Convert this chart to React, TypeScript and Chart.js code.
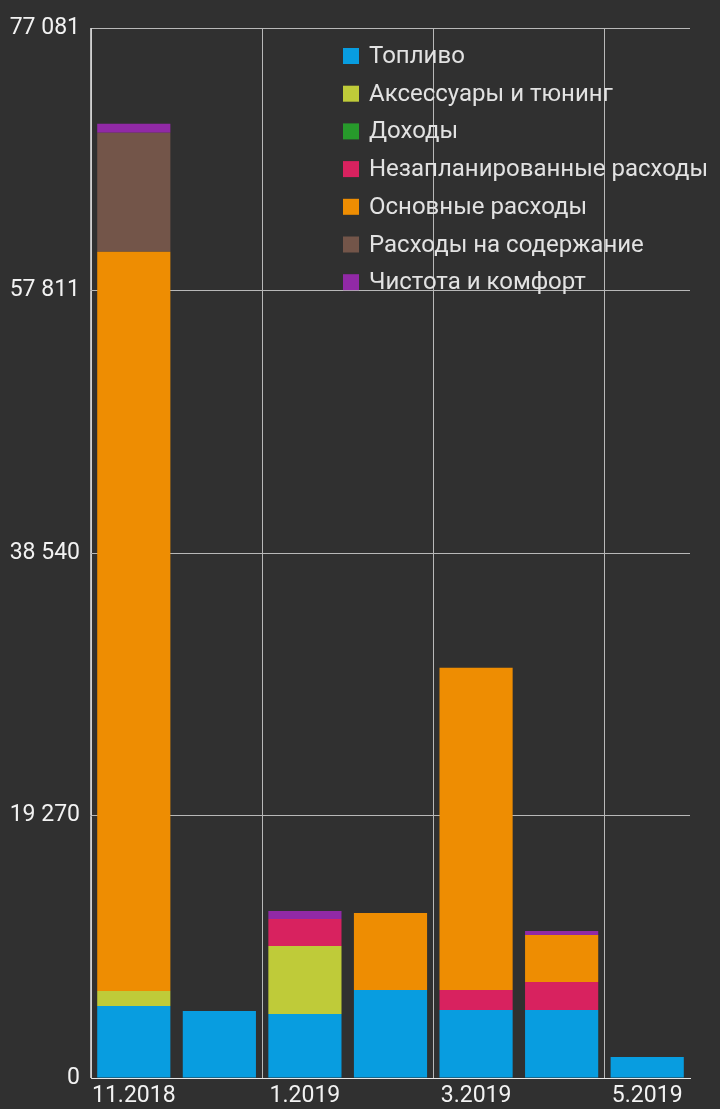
import React, { useEffect, useRef } from "react";
import { Chart, registerables } from "chart.js";

Chart.register(...registerables);

const categories = ["11.2018", "12.2018", "1.2019", "2.2019", "3.2019", "4.2019", "5.2019"];
const yTickValues = [0, 19270.25, 38540.5, 57810.75, 77081];
const yTickLabels = ["0", "19 270", "38 540", "57 811", "77 081"];

const fuel = [5286, 4918, 4698, 6460, 4992, 4992, 1542];
const accessories = [1101, 0, 4992, 0, 0, 0, 0];
const income = [0, 0, 0, 0, 0, 0, 0];
const unplanned = [0, 0, 1982, 0, 1468, 2055, 0];
const basic = [54273, 0, 0, 5653, 23660, 3451, 0];
const maintenance = [8736, 0, 0, 0, 0, 0, 0];
const cleanliness = [660, 0, 587, 0, 0, 293, 0];

const seriesNames = [
  "Топливо",
  "Аксессуары и тюнинг",
  "Доходы",
  "Незапланированные расходы",
  "Основные расходы",
  "Расходы на содержание",
  "Чистота и комфорт",
];
const seriesColors = ["#089DE0", "#BFCB39", "#279A2B", "#D8225F", "#EE8D02", "#735549", "#9129A6"];
const seriesValues = [fuel, accessories, income, unplanned, basic, maintenance, cleanliness];

const FONT = "Roboto, 'Noto Sans', sans-serif";

const insideLegend = {
  id: "insideLegend",
  afterDraw(chart: any) {
    const { ctx, chartArea } = chart;
    const x0 = chartArea.left + 252;
    const y0 = chartArea.top + 28;
    const step = 37.7;
    ctx.save();
    ctx.font = `24px ${FONT}`;
    ctx.textBaseline = "middle";
    ctx.textAlign = "left";
    chart.data.datasets.forEach((ds: any, i: number) => {
      const cy = y0 + i * step;
      ctx.fillStyle = ds.backgroundColor;
      ctx.fillRect(x0, cy - 8, 16, 16);
      ctx.fillStyle = "#e2e2e2";
      ctx.fillText(ds.label, x0 + 26, cy + 1);
    });
    ctx.restore();
  },
};

export default function App() {
  const ref = useRef<HTMLCanvasElement | null>(null);
  useEffect(() => {
    if (!ref.current) return;
    const chart = new Chart(ref.current, {
      type: "bar",
      data: {
        labels: categories,
        datasets: seriesNames.map((name, i) => ({
          label: name,
          data: seriesValues[i],
          backgroundColor: seriesColors[i],
          borderWidth: 0,
          categoryPercentage: 1,
          barPercentage: 0.855,
        })),
      },
      options: {
        responsive: false,
        animation: false,
        layout: { padding: { top: 28, right: 30, left: 0, bottom: 0 } },
        plugins: {
          legend: { display: false },
          tooltip: { enabled: false },
        },
        scales: {
          x: {
            stacked: true,
            offset: true,
            grid: {
              offset: true,
              drawTicks: false,
              color: (c: any) => (c.index % 2 === 0 ? "#b8b8b8" : "transparent"),
              lineWidth: 1,
            },
            border: { display: true, color: "#e8e8e8", width: 1 },
            ticks: {
              autoSkip: false,
              maxRotation: 0,
              padding: 4,
              color: "#f2f2f2",
              font: { family: FONT, size: 23 },
              callback: (_v: any, i: number) => (i % 2 === 0 ? categories[i] : ""),
            },
            afterFit: (s: any) => {
              s.height = 31;
            },
          },
          y: {
            stacked: true,
            min: 0,
            max: 77081,
            afterBuildTicks: (s: any) => {
              s.ticks = yTickValues.map((v) => ({ value: v }));
            },
            grid: { color: "#b8b8b8", drawTicks: false, lineWidth: 1 },
            border: { display: true, color: "#d0d0d0", width: 1 },
            ticks: {
              padding: 11,
              color: "#f2f2f2",
              font: { family: FONT, size: 23 },
              callback: (_v: any, i: number) => yTickLabels[i],
            },
            afterFit: (s: any) => {
              s.width = 91;
            },
          },
        },
      },
      plugins: [insideLegend],
    });
    return () => chart.destroy();
  }, []);
  return (
    <div
      style={{
        position: "absolute",
        left: 0,
        top: 0,
        width: 720,
        height: 1109,
        background: "#303030",
      }}
    >
      <canvas ref={ref} width={720} height={1109} style={{ display: "block" }} />
    </div>
  );
}
